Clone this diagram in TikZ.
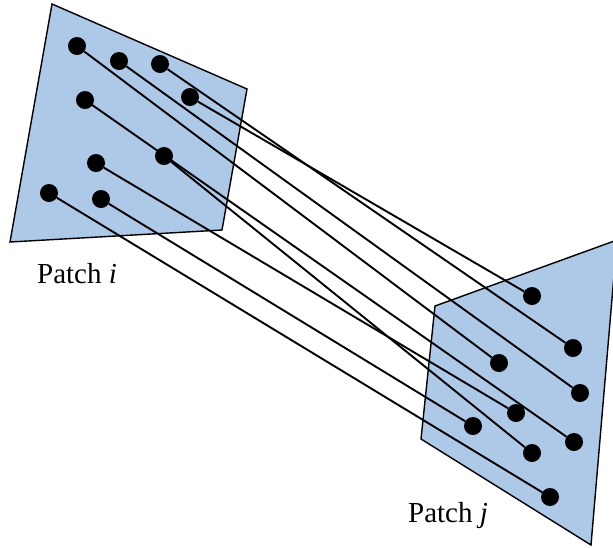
\documentclass[tikz,border=0pt]{standalone}
\usepackage{fontspec}
\setmainfont{Liberation Serif}
\usepackage{tikz}
\usetikzlibrary{positioning}
\definecolor{patchblue}{HTML}{AEC8E8}
\tikzset{
  patch/.style={draw, line width=1.4pt, fill=patchblue, line join=miter},
  pt/.style={circle, fill=black, inner sep=0pt, minimum size=18pt},
  match/.style={line width=1.9pt},
  lbl/.style={anchor=base, inner sep=0pt, font=\fontsize{29}{33}\selectfont},
}
\begin{document}
\begin{tikzpicture}[x=1pt, y=-1pt]
  \useasboundingbox (0,0) rectangle (613,547);
  % the two patches
  \draw[patch] (52,4) -- (247,89) -- (222,230) -- (10,242) -- cycle;
  \draw[patch] (435,306) -- (617,240) -- (591,545) -- (421,439) -- cycle;
  % points in patch i
  \node[pt] (i1) at (77,46) {};
  \node[pt] (i2) at (119,61) {};
  \node[pt] (i3) at (160,64) {};
  \node[pt] (i4) at (190,97) {};
  \node[pt] (i5) at (85,100) {};
  \node[pt] (i6) at (164,156) {};
  \node[pt] (i7) at (96,163) {};
  \node[pt] (i8) at (49,193) {};
  \node[pt] (i9) at (101,199) {};
  % points in patch j
  \node[pt] (j1) at (532,296) {};
  \node[pt] (j2) at (573,348) {};
  \node[pt] (j3) at (499,363) {};
  \node[pt] (j4) at (580,393) {};
  \node[pt] (j5) at (516,413) {};
  \node[pt] (j6) at (473,426) {};
  \node[pt] (j7) at (574,442) {};
  \node[pt] (j8) at (532,453) {};
  \node[pt] (j9) at (550,497) {};
  % correspondences
  \draw[match] (i1) -- (j3);
  \draw[match] (i2) -- (j4);
  \draw[match] (i3) -- (j2);
  \draw[match] (i4) -- (j1);
  \draw[match] (i5.center) -- (j7);
  \draw[match] (i6) -- (j8);
  \draw[match] (i7) -- (j5);
  \draw[match] (i8) -- (j9);
  \draw[match] (i9) -- (j6);
  % labels
  \node[lbl] (lbli) at (77,283) {Patch \textit{i}};
  \node[lbl] (lblj) at (448,522) {Patch \textit{j}};
\end{tikzpicture}
\end{document}
